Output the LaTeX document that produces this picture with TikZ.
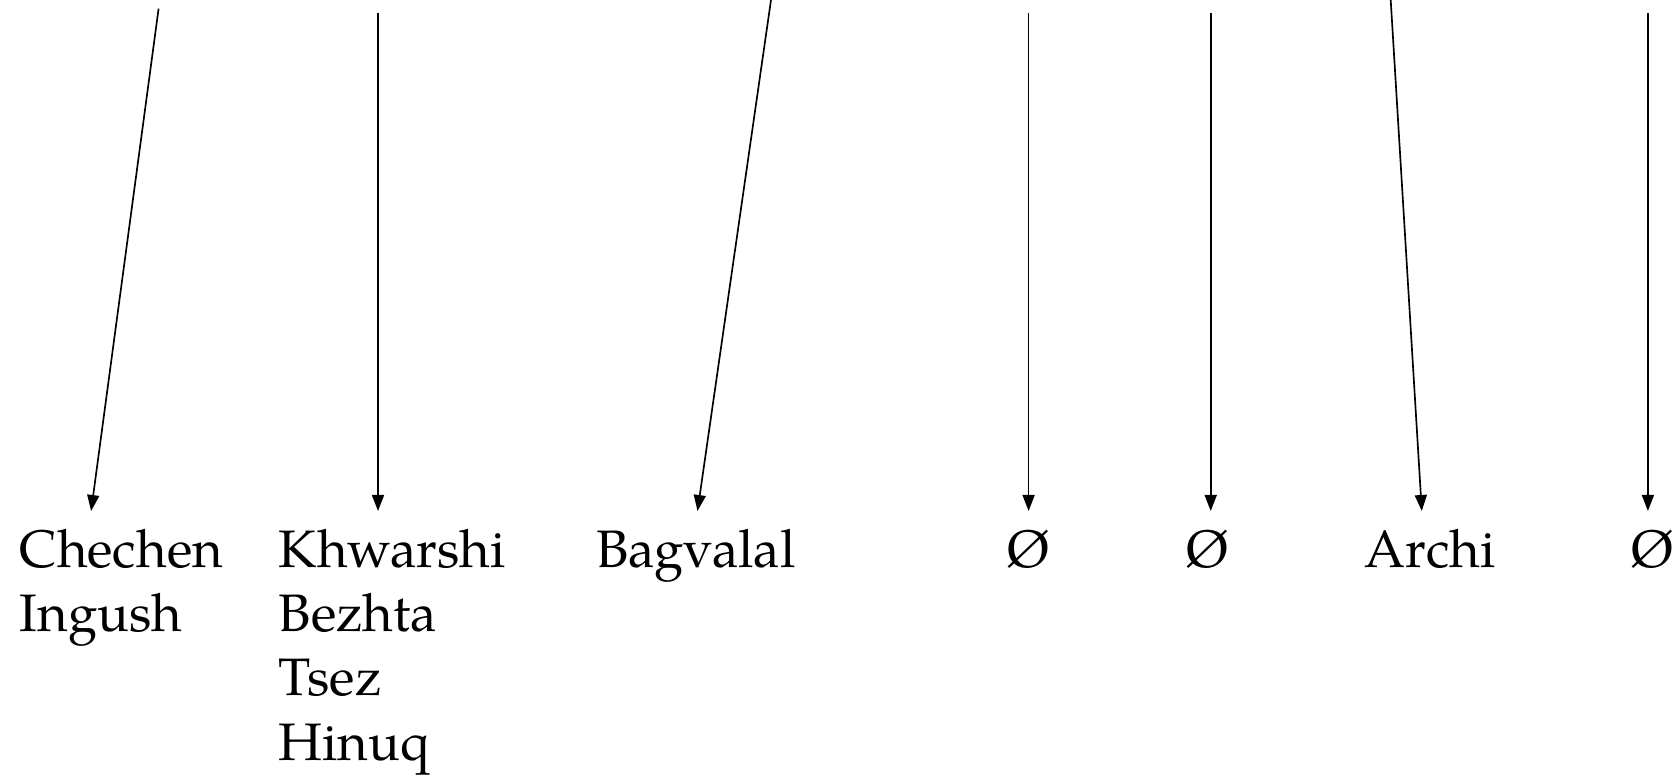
\documentclass[tikz,border=0pt]{standalone}
\usepackage{fontspec}
\setmainfont{TeX Gyre Pagella}
\usetikzlibrary{arrows.meta}
\begin{document}
\begin{tikzpicture}[
  lang/.style={anchor=base west, inner sep=0pt, font=\fontsize{30}{36}\selectfont},
  nil/.style={anchor=base, inner sep=0pt, font=\fontsize{30}{36}\selectfont},
  conn/.style={line width=0.95pt, -{Triangle[length=0.32cm,width=0.24cm]}}
]
\useasboundingbox (0,0) rectangle (33.6,15.5);
% top ends (source text lies above the visible area)
\coordinate (t1) at (3.172,15.328);
\coordinate (t2) at (7.56,15.24);
\coordinate (t3) at (15.42,15.5);
\coordinate (t4) at (20.572,15.24);
\coordinate (t5) at (24.214,15.24);
\coordinate (t6) at (27.814,15.5);
\coordinate (t7) at (32.958,15.24);
% arrow tips
\coordinate (b1) at (1.822,5.28);
\coordinate (b2) at (7.56,5.28);
\coordinate (b3) at (13.95,5.28);
\coordinate (b4) at (20.572,5.28);
\coordinate (b5) at (24.214,5.28);
\coordinate (b6) at (28.436,5.28);
\coordinate (b7) at (32.958,5.28);
% labels
\node[lang] (chechen) at (0.386,4.14) {Chechen};
\node[lang] (ingush) at (0.386,2.86) {Ingush};
\node[lang] (khwarshi) at (5.572,4.14) {Khwarshi};
\node[lang] (bezhta) at (5.572,2.86) {Bezhta};
\node[lang] (tsez) at (5.572,1.58) {Tsez};
\node[lang] (hinuq) at (5.572,0.30) {Hinuq};
\node[lang] (bagvalal) at (11.914,4.14) {Bagvalal};
\node[nil] (nil1) at (20.572,4.14) {Ø};
\node[nil] (nil2) at (24.15,4.14) {Ø};
\node[lang] (archi) at (27.28,4.14) {Archi};
\node[nil] (nil3) at (33.04,4.14) {Ø};
% connectors
\draw[conn] (t1) -- (b1);
\draw[conn] (t2) -- (b2);
\draw[conn] (t3) -- (b3);
\draw[conn] (t4) -- (b4);
\draw[conn] (t5) -- (b5);
\draw[conn] (t6) -- (b6);
\draw[conn] (t7) -- (b7);
\end{tikzpicture}
\end{document}
